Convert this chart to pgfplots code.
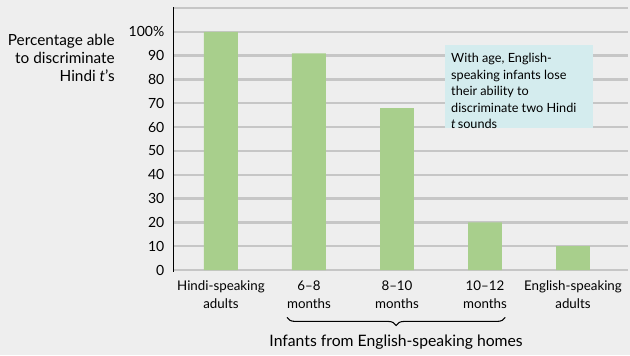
\documentclass[border=0pt]{standalone}
\usepackage{pgfplots}
\pgfplotsset{compat=1.18}
\usepackage{fontspec}
\setmainfont{Lato}
\usetikzlibrary{decorations.pathreplacing}
\definecolor{bg}{HTML}{EEEEEE}
\definecolor{barg}{HTML}{A8CF8C}
\definecolor{gridc}{HTML}{C6C6C6}
\definecolor{boxc}{HTML}{D4ECEE}
\begin{document}
\begin{tikzpicture}
\fill[bg] (-129.75pt,-63.75pt) rectangle (342.75pt,202.5pt);
\begin{axis}[
 at={(0,0)}, anchor=south west,
 scale only axis, width=341.25pt, height=196.5pt,
 xmin=-0.545, xmax=4.625, ymin=0, ymax=110,
 axis line style={draw=none},
 ytick={0,10,...,100},
 yticklabels={0,10,20,30,40,50,60,70,80,90,100\%},
 major tick length=0pt,
 ymajorgrids, grid style={gridc, line width=1.8pt},
 xtick={0,1,2,3,4},
 xticklabels={{Hindi-speaking\\adults}, {6–8\\months}, {8–10\\months}, {10–12\\months}, {English-speaking\\adults}},
 xticklabel style={align=center, font=\fontsize{10}{13.5}\selectfont, yshift=-4.5pt},
 yticklabel style={font=\fontsize{10.5}{12}\selectfont, xshift=-3pt},
 /pgf/number format/assume math mode=true,
 clip=false,
]
\addplot[ybar, bar width=0.386, fill=barg, draw=none] coordinates {(0,100) (1,91) (2,68) (3,20) (4,10)};
\draw[gridc, line width=1.8pt] (axis cs:-0.545,110) -- (axis cs:4.625,110);
\draw[black, line width=0.6pt] (axis cs:-0.545,-0.8) -- (axis cs:-0.545,110.5);
\fill[boxc] (axis cs:2.545,59.7) rectangle (axis cs:4.227,94.5);
\node[anchor=north west, align=left, inner sep=0pt, font=\fontsize{9.5}{12.4}\selectfont]
  at (axis cs:2.545,94.5) [xshift=4.5pt, yshift=-6pt]
  {With age, English-\\speaking infants lose\\their ability to\\discriminate two Hindi\\\textit{t}\,sounds};
\node[anchor=north east, align=right, inner sep=0pt, font=\fontsize{11.5}{13.5}\selectfont]
  at (rel axis cs:0,1) [xshift=-43.5pt, yshift=-19.5pt]
  {Percentage able\\to discriminate\\Hindi \textit{t}’s};
\draw[decorate, decoration={brace, mirror, amplitude=6pt}, line width=0.8pt]
  (axis cs:0.75,-19.9) -- (axis cs:3.23,-19.9);
\node[font=\fontsize{11.8}{13}\selectfont] at (axis cs:1.99,-30.4) {Infants from English-speaking homes};
\end{axis}
\end{tikzpicture}
\end{document}
